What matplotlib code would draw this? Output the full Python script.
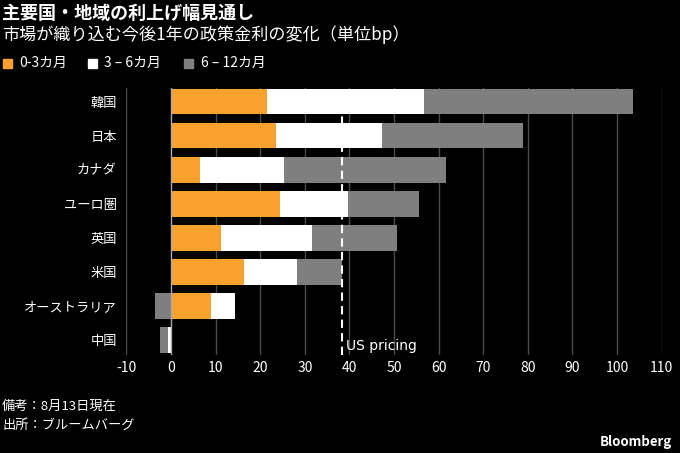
import numpy as np
import matplotlib
matplotlib.use('Agg')
import matplotlib.pyplot as plt
from matplotlib.patches import Rectangle

plt.rcParams['font.family'] = ['Noto Sans CJK JP', 'DejaVu Sans']

# Daten
countries = ['韓国', '日本', 'カナダ', 'ユーロ圏', '英国', '米国', 'オーストラリア', '中国']
m0_3 = [21.5, 23.5, 6.5, 24.5, 11.3, 16.3, 8.9, 0.2]
m3_6 = [35.3, 23.8, 18.8, 15.2, 20.4, 12.0, 5.4, -0.8]
m6_12 = [46.7, 31.7, 36.3, 15.9, 19.0, 10.1, -3.5, -1.7]
us_pricing = 38.4
xticks = list(range(-10, 111, 10))

series = [('0-3カ月', m0_3, '#f9a12e'),
          ('3 – 6カ月', m3_6, '#ffffff'),
          ('6 – 12カ月', m6_12, '#7f7f7f')]

fig = plt.figure(figsize=(6.8, 4.53), dpi=100, facecolor='black')
ax = fig.add_axes([0.186, 0.216, 0.787, 0.590], facecolor='black')

y = np.arange(len(countries))
pos = np.zeros(len(countries))
neg = np.zeros(len(countries))
for label, vals, color in series:
    vals = np.array(vals)
    left = np.where(vals >= 0, pos, neg)
    ax.barh(y, vals, left=left, height=0.76, color=color, label=label, zorder=3)
    pos = np.where(vals >= 0, pos + vals, pos)
    neg = np.where(vals < 0, neg + vals, neg)

ax.set_xlim(-10, 110)
ax.set_ylim(len(countries) - 0.55, -0.4)
ax.set_xticks(xticks)
ax.set_xticklabels([str(t) for t in xticks], color='white', fontsize=10)
ax.set_yticks(y)
ax.set_yticklabels(countries, color='white', fontsize=9.5)
ax.tick_params(length=0, pad=7)
ax.tick_params(axis='x', pad=4)
for s in ax.spines.values():
    s.set_visible(False)
for t in xticks:
    ax.axvline(t, color='#aaaaaa' if t == 0 else '#4a4a4a', lw=1, zorder=1 if t else 4)

ax.axvline(us_pricing, color='white', lw=1.5, ls=(0, (4, 2.5)), zorder=5)
ax.text(us_pricing + 0.8, len(countries) - 1 + 0.18, 'US pricing', color='white',
        fontsize=10, va='center', ha='left', family=['DejaVu Sans'])

# Titel
fig.text(0.003, 0.970, '主要国・地域の利上げ幅見通し', color='white', fontsize=13,
         fontweight='bold', va='center')
fig.text(0.003, 0.923, '市場が織り込む今後1年の政策金利の変化（単位bp）', color='white',
         fontsize=12.3, va='center')

# Legende
lx = 0.004
for label, vals, color in series:
    fig.patches.append(Rectangle((lx, 0.850), 0.013, 0.02, transform=fig.transFigure,
                                 color=color))
    fig.text(lx + 0.024, 0.860, label, color='white', fontsize=10, va='center')
    lx += 0.125 if label == '0-3カ月' else 0.142

fig.text(0.003, 0.104, '備考：8月13日現在', color='white', fontsize=9.5, va='center')
fig.text(0.003, 0.062, '出所：ブルームバーグ', color='white', fontsize=9.5, va='center')
fig.text(0.988, 0.024, 'Bloomberg', color='white', fontsize=9.5, fontweight='bold',
         ha='right', va='center')

plt.savefig('out.png', dpi=100, facecolor='black')
